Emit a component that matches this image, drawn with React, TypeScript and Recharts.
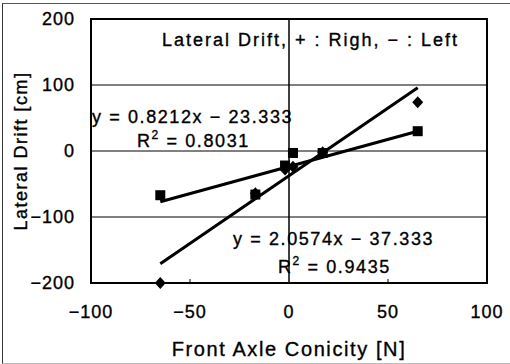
import { ScatterChart, Scatter, XAxis, YAxis, CartesianGrid, ReferenceLine, ReferenceArea, Customized } from 'recharts'

// measured points (front axle conicity vs lateral drift)
const conicity = [-65, -17, -2, 2, 17, 65]
const driftSquare = [-67, -66, -22, -3, -3, 30]
const driftDiamond = [-200, -64, -28, -24, -2, 74]

// regression line end points
const trendX = [-65, 65]
const trendSquare = [-77, 30]
const trendDiamond = [-171, 96]

const xTicks = [-100, -50, 0, 50, 100]
const yTicks = [-200, -100, 0, 100, 200]
const innerTicks = [-50, 50]

const FONT = '"Liberation Sans", Arial, Helvetica, sans-serif'

const squares = conicity.map((x, i) => ({ x, y: driftSquare[i] }))
const diamonds = conicity.map((x, i) => ({ x, y: driftDiamond[i] }))
const fitSquare = trendX.map((x, i) => ({ x, y: trendSquare[i] }))
const fitDiamond = trendX.map((x, i) => ({ x, y: trendDiamond[i] }))

const minus = (v: number) => String(v).replace('-', '−')
const tickStyle = { fill: '#000', fontSize: 18, fontFamily: FONT, letterSpacing: 1, stroke: '#000', strokeWidth: 0.35 }

const Square = ({ cx, cy }: any) => <rect x={cx - 5} y={cy - 5} width={10} height={10} fill="#000" />
const Diamond = ({ cx, cy }: any) => (
  <polygon points={`${cx},${cy - 6} ${cx + 5.5},${cy} ${cx},${cy + 6} ${cx - 5.5},${cy}`} fill="#000" />
)
const NoDot = () => <g />

function Notes() {
  return (
    <g fontFamily={FONT} fill="#000" stroke="#000" strokeWidth={0.35} fontSize={18}>
      <text x={162} y={46} letterSpacing={2}>Lateral Drift, + : Righ, − : Left</text>
      <text x={92} y={123} letterSpacing={1.6}>y = 0.8212x − 23.333</text>
      <text x={137} y={147} letterSpacing={1.6}>
        R<tspan dy={-8} fontSize={12}>2</tspan><tspan dy={8}> = 0.8031</tspan>
      </text>
      <text x={233} y={245} letterSpacing={1.6}>y = 2.0574x − 37.333</text>
      <text x={278} y={273} letterSpacing={1.6}>
        R<tspan dy={-8} fontSize={12}>2</tspan><tspan dy={8}> = 0.9435</tspan>
      </text>
      <text x={289} y={356} fontSize={20} letterSpacing={1.6} textAnchor="middle">Front Axle Conicity [N]</text>
      <text x={27} y={151} letterSpacing={1.5} textAnchor="middle" transform="rotate(-90 27 151)">
        Lateral Drift [cm]
      </text>
    </g>
  )
}

export default function App() {
  return (
    <div style={{ position: 'absolute', left: 0, top: 0, width: 510, height: 364, overflow: 'hidden', background: '#fff' }}>
      <div style={{
        position: 'absolute', left: 2, top: 3, width: 510, height: 359,
        borderTop: '1px solid #555', borderLeft: '1px solid #333', borderBottom: '1px solid #bbb',
      }} />
      <div style={{ position: 'absolute', left: 0, top: 0 }}>
        <ScatterChart width={510} height={364} margin={{ top: 19, right: 23, left: 0, bottom: 0 }}>
          <CartesianGrid horizontal vertical={false} stroke="#000" strokeWidth={1} />
          <XAxis
            type="number"
            dataKey="x"
            domain={[-100, 100]}
            ticks={xTicks}
            height={81}
            tickSize={0}
            tickMargin={22}
            axisLine={false}
            tickFormatter={minus}
            tick={tickStyle}
          />
          <YAxis
            type="number"
            dataKey="y"
            domain={[-200, 200]}
            ticks={yTicks}
            width={91}
            tickSize={0}
            tickMargin={16}
            axisLine={false}
            tickFormatter={minus}
            tick={tickStyle}
          />
          <ReferenceLine x={0} stroke="#000" strokeWidth={1.5} />
          {innerTicks.map(t => (
            <ReferenceLine key={t} segment={[{ x: t, y: -200 }, { x: t, y: -194 }]} stroke="#000" strokeWidth={1} />
          ))}
          <ReferenceArea x1={-100} x2={100} y1={-200} y2={200} fill="none" stroke="#000" strokeWidth={2} />
          <Scatter data={fitSquare} line={{ stroke: '#000', strokeWidth: 3 }} shape={NoDot} isAnimationActive={false} />
          <Scatter data={fitDiamond} line={{ stroke: '#000', strokeWidth: 3 }} shape={NoDot} isAnimationActive={false} />
          <Scatter data={diamonds} shape={Diamond} isAnimationActive={false} />
          <Scatter data={squares} shape={Square} isAnimationActive={false} />
          <Customized component={<Notes />} />
        </ScatterChart>
      </div>
    </div>
  )
}
